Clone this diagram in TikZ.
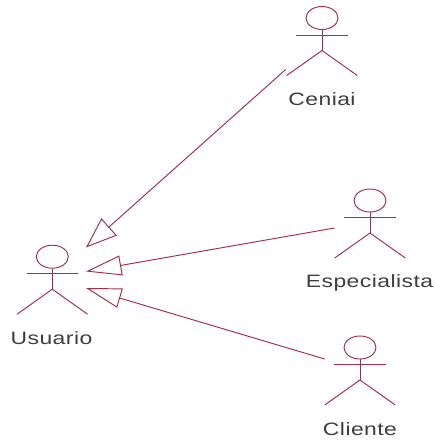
\documentclass[tikz,border=0pt]{standalone}
\usepackage{fontspec}
\usetikzlibrary{arrows.meta,shapes.geometric}
\newfontfamily\lablfont[FakeStretch=1.28,LetterSpace=2.5]{Liberation Sans}
\definecolor{umlred}{RGB}{168,44,74}
\definecolor{labgray}{RGB}{62,62,64}
\tikzset{
  umlline/.style={draw=umlred,line width=0.95pt},
  actorhead/.style={umlline,ellipse,minimum width=32pt,minimum height=23pt,inner sep=0pt},
  actorlabel/.style={text=labgray,font=\lablfont\fontsize{17.9}{20}\selectfont,inner sep=0pt},
  gen/.style={umlline,-{Triangle[open,length=#1,width=20pt,line width=0.95pt]}},
  pics/actor/.style={code={
    \node[actorhead] (-head) at (0,0) {};
    \coordinate (-top) at (0,11.5);
    \coordinate (-hip) at (0,32.5);
    \coordinate (-armL) at (-25.7,17);
    \coordinate (-armR) at (25.7,17);
    \coordinate (-legL) at (-35.3,57.5);
    \coordinate (-legR) at (35.3,57.5);
    \draw[umlline] (-head.south) -- (-hip);
    \draw[umlline] (-armL) -- (-armR);
    \draw[umlline] (-legL) -- (-hip) -- (-legR);
  }}
}
\begin{document}
\begin{tikzpicture}[x=1pt,y=-1pt]
\useasboundingbox (0,0) rectangle (435,440);
\pic (usuario) at (52.3,256.7) {actor};
\pic (ceniai) at (322,18) {actor};
\pic (espec) at (370,200.5) {actor};
\pic (cliente) at (360,347.5) {actor};
\node[actorlabel] (lusuario) at (51.5,338) {Usuario};
\node[actorlabel] (lceniai) at (322,99.5) {Ceniai};
\node[actorlabel] (lespec) at (369.5,283) {Especialista};
\node[actorlabel] (lcliente) at (360,429) {Cliente};
\coordinate (fromC) at (285.7,69.5);
\coordinate (fromE) at (334.5,228);
\coordinate (fromK) at (324.7,359);
\coordinate (toC) at (86,247.5);
\coordinate (toE) at (86,271.5);
\coordinate (toK) at (86,288);
\draw[umlline,-{Triangle[open,length=31pt,width=23pt,line width=0.95pt]}] (fromC) -- (toC);
\draw[gen=35.5pt] (fromE) -- (toE);
\draw[gen=35.5pt] (fromK) -- (toK);
\end{tikzpicture}
\end{document}
